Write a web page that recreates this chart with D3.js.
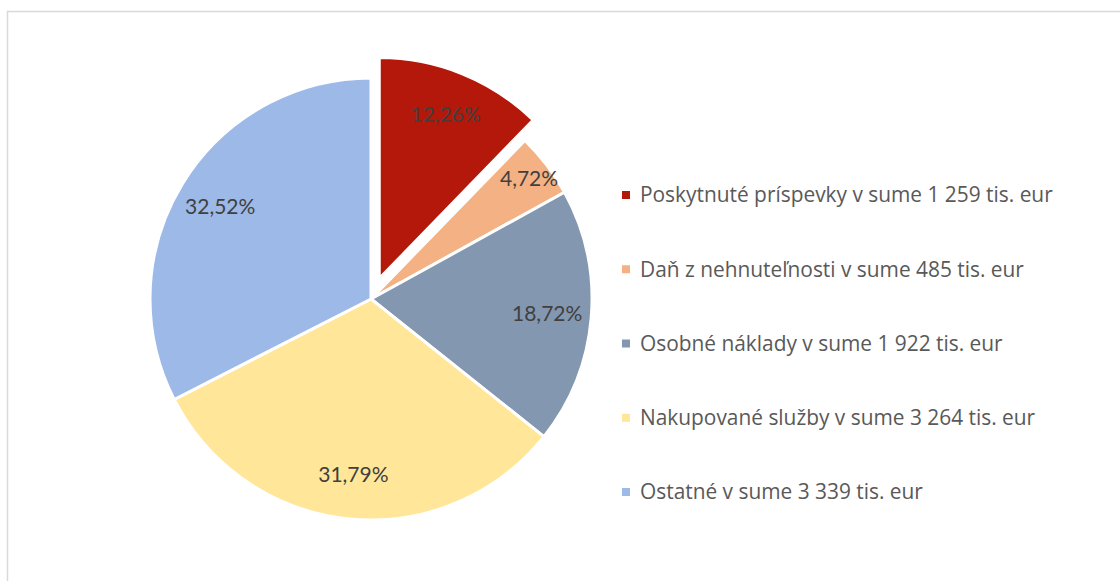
<!DOCTYPE html>
<html><head><meta charset="utf-8">
<script src="https://cdn.jsdelivr.net/npm/d3@7"></script>
<style>body{margin:0;background:#fff}svg{display:block}</style>
</head><body><svg id="c" width="1120" height="581"></svg>
<script>
const categories = ["Poskytnuté príspevky v sume 1 259 tis. eur","Daň z nehnuteľnosti v sume 485 tis. eur","Osobné náklady v sume 1 922 tis. eur","Nakupované služby v sume 3 264 tis. eur","Ostatné v sume 3 339 tis. eur"];
const percents = [12.26, 4.72, 18.72, 31.79, 32.52];
const colors = ["#B3180A", "#F4B183", "#8497B0", "#FFE699", "#9DB9E8"];
const exploded = [true, false, false, false, false];

const svg = d3.select("#c");
svg.append("rect").attr("x",7.5).attr("y",11.5).attr("width",1200).attr("height",700)
  .attr("fill","#fff").attr("stroke","#d9d9d9").attr("stroke-width",1.5);

const FONT = "'Open Sans', Lato, sans-serif";
const LFONT = "Lato, 'Open Sans', sans-serif";
const cx = 371, cy = 299, r = 221, explode = 22;
const pie = d3.pie().sort(null).value(d=>d)(percents);
const arc = d3.arc().innerRadius(0).outerRadius(r);
const fmt = v => v.toFixed(2).replace(".", ",") + "%";
const g = svg.append("g").attr("transform",`translate(${cx},${cy})`);
pie.forEach((p,i)=>{
  const mid = (p.startAngle+p.endAngle)/2;
  const off = exploded[i] ? explode : 0;
  const ox = off*Math.sin(mid), oy = -off*Math.cos(mid);
  const sg = g.append("g").attr("transform",`translate(${ox},${oy})`);
  sg.append("path").attr("d",arc(p)).attr("fill",colors[i]).attr("stroke","#fff").attr("stroke-width",3).attr("stroke-linejoin","round");
  const frac = percents[i]/100;
  const lr = r*(frac<0.06?0.9:(frac<0.15?0.8:0.8));
  sg.append("text").attr("x",lr*Math.sin(mid)).attr("y",-lr*Math.cos(mid)).attr("dy","0.35em")
    .attr("text-anchor","middle").attr("font-family",LFONT).attr("font-size",21)
    .attr("fill","#404040").text(fmt(percents[i]));
});

const leg = svg.append("g");
const y = d3.scalePoint().domain(categories).range([195, 492]);
const texts = [];
categories.forEach((c,i)=>{
  leg.append("rect").attr("x",622).attr("y",y(c)-4).attr("width",8).attr("height",8).attr("fill",colors[i]);
  texts.push(leg.append("text").attr("x",640).attr("y",y(c)).attr("dy","0.35em").attr("font-family",FONT)
    .attr("font-size",18).attr("fill","#595959").text(c));
});
const tw = texts[0].node().getComputedTextLength();
const fs = 18*413/tw;
texts.forEach(t=>t.attr("font-size",fs));
</script></body></html>
